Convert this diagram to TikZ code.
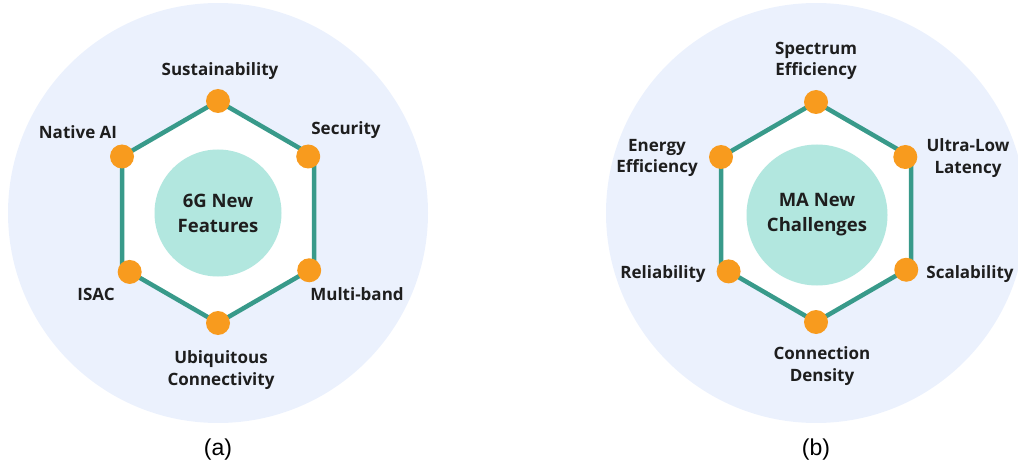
\documentclass[tikz,border=0pt]{standalone}
\usepackage{fontspec}
\setmainfont{Liberation Sans}
\newfontfamily\lblfont{Open Sans}
\usetikzlibrary{calc}
\definecolor{ringbg}{HTML}{EBF1FD}
\definecolor{hexline}{HTML}{389A8A}
\definecolor{dotorange}{HTML}{F89B1E}
\definecolor{corefill}{HTML}{B2E7DF}
\definecolor{lbltext}{HTML}{1E1E1E}
\begin{document}
\begin{tikzpicture}[x=1pt,y=-1pt,
  hexedge/.style={draw=hexline,line width=4.5pt,fill=white,line join=miter},
  vdot/.style={circle,fill=dotorange,inner sep=0pt,minimum size=24pt},
  core/.style={circle,fill=corefill,inner sep=0pt,align=center,text=lbltext,font=\lblfont\bfseries\fontsize{18.5}{25}\selectfont},
  lbl/.style={align=center,text=lbltext,font=\lblfont\bfseries\fontsize{17}{21.5}\selectfont},
  subcap/.style={font=\fontsize{23}{26}\selectfont}]
\useasboundingbox (0,0) rectangle (1018,468);
\begin{scope}
\clip (0,0) rectangle (1018,468);
\fill[ringbg] (218,213) circle (210);
\fill[ringbg] (816,213) circle (210);
\end{scope}
% (a) hexagon
\coordinate (aT) at (218,101);
\coordinate (aUR) at (314,156.5);
\coordinate (aLR) at (314,267.5);
\coordinate (aB) at (218,323);
\coordinate (aLL) at (122,267.5);
\coordinate (aUL) at (122,156.5);
\draw[hexedge] (aT) -- (aUR) -- (aLR) -- (aB) -- (aLL) -- (aUL) -- cycle;
\node[core,minimum size=127pt] (F) at (218,213) {6G New\\Features};
\node[vdot] (d1) at (aT) {};
\node[vdot] (d2) at ($(aUR)!0.03!(aUL)$) {};
\node[vdot] (d3) at ($(aLR)!0.05!(aB)$) {};
\node[vdot] (d4) at (aB) {};
\node[vdot] (d5) at ($(aLL)!0.08!(aB)$) {};
\node[vdot] (d6) at (aUL) {};
\node[lbl] (sus) at (220,71) {Sustainability};
\node[lbl] (sec) at (346,130) {Security};
\node[lbl] (mb) at (357,294) {Multi-band};
\node[lbl] (ubi) at (221,370) {Ubiquitous\\Connectivity};
\node[lbl] (isac) at (96,294) {ISAC};
\node[lbl] (nai) at (78,132) {Native AI};
\node[subcap] (capa) at (218,450) {(a)};
% (b) hexagon
\coordinate (bT) at (816,102);
\coordinate (bUR) at (911,157);
\coordinate (bLR) at (911,267);
\coordinate (bB) at (816,322);
\coordinate (bLL) at (721,267);
\coordinate (bUL) at (721,157);
\draw[hexedge] (bT) -- (bUR) -- (bLR) -- (bB) -- (bLL) -- (bUL) -- cycle;
\node[core,minimum size=141pt] (C) at (817,215) {MA New\\Challenges};
\node[vdot] (e1) at (bT) {};
\node[vdot] (e2) at ($(bUR)!0.03!(bUL)$) {};
\node[vdot] (e3) at ($(bLR)!0.05!(bB)$) {};
\node[vdot] (e4) at (bB) {};
\node[vdot] (e5) at ($(bLL)!0.08!(bB)$) {};
\node[vdot] (e6) at (bUL) {};
\node[lbl] (spe) at (816,61) {Spectrum\\Efficiency};
\node[lbl] (ull) at (968,158) {Ultra-Low\\Latency};
\node[lbl] (sca) at (970,274) {Scalability};
\node[lbl] (cod) at (822,366) {Connection\\Density};
\node[lbl] (rel) at (663,274) {Reliability};
\node[lbl] (ene) at (657,158) {Energy\\Efficiency};
\node[subcap] (capb) at (816,450) {(b)};
\end{tikzpicture}
\end{document}
